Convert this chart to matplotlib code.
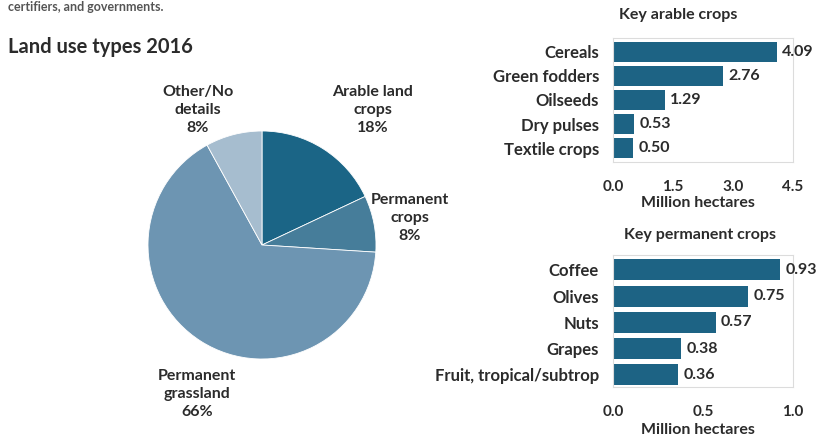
import matplotlib
matplotlib.use("Agg")
import matplotlib.pyplot as plt

plt.rcParams['font.family'] = ['Lato', 'DejaVu Sans']

# ---- data ----
land_types = ["Arable land\ncrops", "Permanent\ncrops", "Permanent\ngrassland", "Other/No\ndetails"]
land_share = [18, 8, 66, 8]

arable_crops = ["Cereals", "Green fodders", "Oilseeds", "Dry pulses", "Textile crops"]
arable_area = [4.09, 2.76, 1.29, 0.53, 0.50]
arable_ticks = [0.0, 1.5, 3.0, 4.5]

perm_crops = ["Coffee", "Olives", "Nuts", "Grapes", "Fruit, tropical/subtrop"]
perm_area = [0.93, 0.75, 0.57, 0.38, 0.36]
perm_ticks = [0.0, 0.5, 1.0]

W, H = 821, 442
TXT = "#2b2b2b"
BAR = "#1d6384"
PIE_COLORS = ["#1b6586", "#467d9a", "#6d95b2", "#a6bdcf"]
FRAME = "#dcdcdc"
WEIGHT = "bold"

fig = plt.figure(figsize=(W / 100, H / 100), dpi=100)
fig.patch.set_facecolor("white")


def fx(x):
    return x / W


def fy(y):
    return 1 - y / H


def ptext(x, y, s, **kw):
    kw.setdefault("color", TXT)
    kw.setdefault("fontsize", 10)
    return fig.text(fx(x), fy(y), s, **kw)


# header texts
ptext(8, 7, "certifiers, and governments.", fontsize=9, va="center", ha="left",
      color="#555555", fontweight=WEIGHT)
ptext(8, 47, "Land use types 2016", fontsize=14.5, fontweight="bold", va="center", ha="left")

# ---- pie ----
cx, cy, r = 262, 245, 114
pax = fig.add_axes([fx(cx - r), fy(cy + r), 2 * r / W, 2 * r / H])
pax.pie(land_share, colors=PIE_COLORS, startangle=90, counterclock=False, radius=1,
        wedgeprops=dict(linewidth=0.6, edgecolor="white"))
pax.set_xlim(-1, 1)
pax.set_ylim(-1, 1)
pax.set_aspect("equal")
pax.axis("off")

label_pos = [(373, 110), (410, 218), (197, 394), (198, 110)]
for name, share, (lx, ly) in zip(land_types, land_share, label_pos):
    ptext(lx, ly, f"{name}\n{share}%", ha="center", va="center", fontsize=11.5,
          linespacing=1.35, fontweight=WEIGHT)


# ---- bar panels ----
def bar_panel(rect, cats, vals, xmax, ticks, fmt, title, title_xy, xlabel_y, ylim):
    ax = fig.add_axes(rect)
    pos = list(range(len(cats)))
    ax.barh(pos, vals, height=0.8, color=BAR)
    ax.set_xlim(0, xmax)
    ax.set_ylim(*ylim)
    ax.set_yticks(pos)
    ax.set_yticklabels(cats, fontsize=12, color=TXT, fontweight=WEIGHT)
    ax.set_xticks(ticks)
    ax.set_xticklabels([fmt.format(t) for t in ticks], fontsize=11, color=TXT,
                       fontweight=WEIGHT)
    ax.tick_params(axis="both", length=0)
    ax.tick_params(axis="y", pad=10)
    ax.tick_params(axis="x", pad=13)
    for sp in ax.spines.values():
        sp.set_color(FRAME)
        sp.set_linewidth(0.8)
    for p, v in zip(pos, vals):
        ax.text(v + xmax * 0.03, p, f"{v:.2f}", va="center", ha="left",
                fontsize=11.5, color=TXT, fontweight=WEIGHT)
    ptext(title_xy[0], title_xy[1], title, ha="center", va="center", fontsize=11.5,
          fontweight=WEIGHT)
    ptext(698, xlabel_y, "Million hectares", ha="center", va="center", fontsize=11.5,
          fontweight=WEIGHT)
    return ax


# arable crops: axes from x 613..793, y 38..162
bar_panel([fx(613), fy(162), 180 / W, 124 / H], arable_crops, arable_area, 4.5,
          arable_ticks, "{:.1f}", "Key arable crops", (678, 15), 203, (4.58, -0.58))

# permanent crops: axes from x 613..793, y 255..387
bar_panel([fx(613), fy(387), 180 / W, 132 / H], perm_crops, perm_area, 1.0,
          perm_ticks, "{:.1f}", "Key permanent crops", (700, 235), 430, (4.46, -0.57))

fig.savefig("out.png", dpi=100, facecolor="white")
